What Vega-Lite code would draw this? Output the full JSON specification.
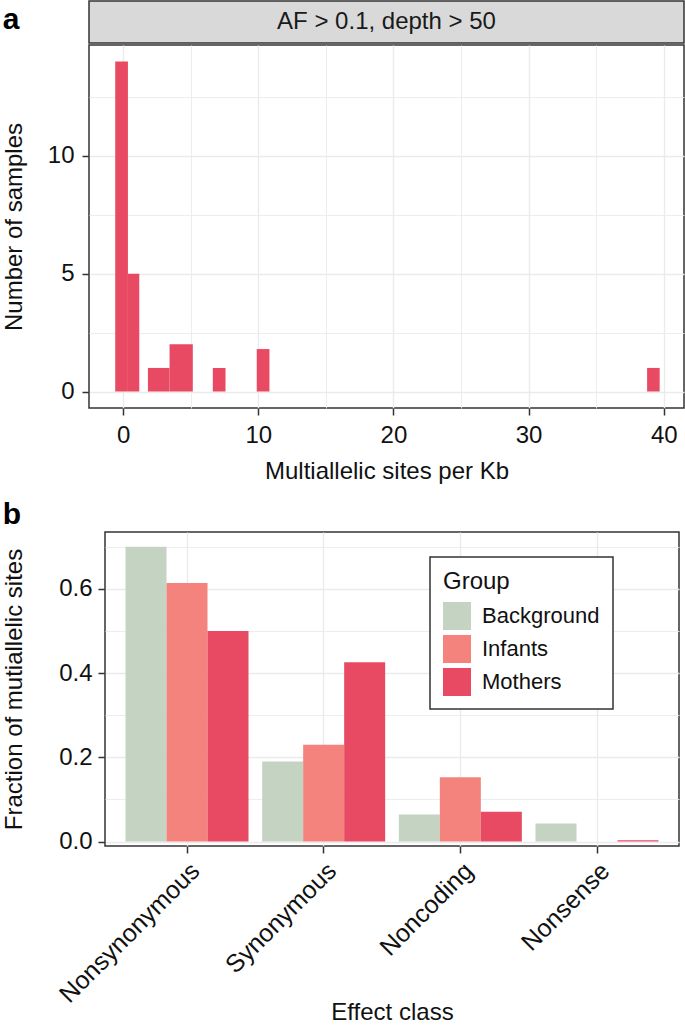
{
  "$schema": "https://vega.github.io/schema/vega-lite/v6.json",
  "padding": {"left": 0, "top": 0, "right": 0, "bottom": 0},
  "background": "white",
  "config": {
    "font": "Liberation Sans",
    "view": {"stroke": "#333333", "strokeWidth": 1.5},
    "axis": {
      "labelFont": "Liberation Sans", "labelFontSize": 24, "labelColor": "#111111",
      "titleFont": "Liberation Sans", "titleFontSize": 24, "titleFontWeight": "normal", "titleColor": "#111111",
      "tickColor": "#333333", "tickWidth": 1.5, "tickSize": 7, "domain": false,
      "gridColor": "#ebebeb", "labelOverlap": false, "labelFlush": false
    },
    "legend": {"strokeWidth": 1.5},
    "title": {"font": "Liberation Sans", "color": "#000000"}
  },
  "spacing": 15,
  "vconcat": [
    {
      "spacing": 0,
      "hconcat": [
        {"width": 1, "height": 1, "view": {"stroke": null, "fill": null}, "data": {"values": []}, "mark": {"type": "point", "opacity": 0}},
        {
          "spacing": 0,
          "vconcat": [
            {
              "width": 595, "height": 42,
              "view": {"fill": "#d9d9d9", "stroke": "#333333", "strokeWidth": 1.5},
              "title": {"text": "a", "orient": "left", "angle": 0, "anchor": "end", "baseline": "top", "dy": 4, "fontSize": 30, "fontWeight": "bold", "offset": 53},
              "data": {"values": [{"label": "AF > 0.1, depth > 50"}]},
              "mark": {"type": "text", "fontSize": 24, "color": "#1a1a1a", "font": "Liberation Sans"},
              "encoding": {"text": {"field": "label", "type": "nominal"}}
            },
            {
              "width": 595, "height": 363,
              "data": {"values": [
                {"start": -0.58, "end": 0.36, "count": 14},
                {"start": 0.36, "end": 1.2, "count": 5},
                {"start": 1.84, "end": 3.44, "count": 1},
                {"start": 3.44, "end": 5.16, "count": 2},
                {"start": 6.64, "end": 7.58, "count": 1},
                {"start": 9.89, "end": 10.83, "count": 1.8},
                {"start": 38.77, "end": 39.7, "count": 1}
              ]},
              "mark": {"type": "rect", "color": "#e84a64"},
              "encoding": {
                "x": {"field": "start", "type": "quantitative",
                  "scale": {"domain": [-2.52, 41.5], "nice": false, "zero": false},
                  "axis": {"title": "Multiallelic sites per Kb", "values": [0, 5, 10, 15, 20, 25, 30, 35, 40],
                    "labelExpr": "datum.value % 10 === 0 ? datum.label : ''",
                    "tickOpacity": {"condition": {"test": "datum.value % 10 === 0", "value": 1}, "value": 0},
                    "gridWidth": {"condition": {"test": "datum.value % 10 === 0", "value": 1.4}, "value": 0.9},
                    "grid": true, "labelPadding": 8, "titlePadding": 12}},
                "x2": {"field": "end"},
                "y": {"field": "count", "type": "quantitative",
                  "scale": {"domain": [-0.7, 14.7], "nice": false, "zero": false},
                  "axis": {"title": "Number of samples", "values": [0, 2.5, 5, 7.5, 10, 12.5],
                    "labelExpr": "datum.value % 5 === 0 ? datum.label : ''",
                    "tickOpacity": {"condition": {"test": "datum.value % 5 === 0", "value": 1}, "value": 0},
                    "gridWidth": {"condition": {"test": "datum.value % 5 === 0", "value": 1.4}, "value": 0.9},
                    "grid": true, "labelPadding": 8, "titlePadding": 21}},
                "y2": {"datum": 0}
              }
            }
          ]
        }
      ]
    },
    {
      "spacing": 0,
      "hconcat": [
        {"width": 1, "height": 1, "view": {"stroke": null, "fill": null}, "data": {"values": []}, "mark": {"type": "point", "opacity": 0}},
        {
          "width": 574, "height": 314,
          "title": {"text": "b", "anchor": "start", "frame": "bounds", "fontSize": 30, "fontWeight": "bold", "offset": 2},
          "data": {"values": [
            {"effect": "Nonsynonymous", "group": "Background", "fraction": 0.700},
            {"effect": "Nonsynonymous", "group": "Infants", "fraction": 0.614},
            {"effect": "Nonsynonymous", "group": "Mothers", "fraction": 0.500},
            {"effect": "Synonymous", "group": "Background", "fraction": 0.190},
            {"effect": "Synonymous", "group": "Infants", "fraction": 0.230},
            {"effect": "Synonymous", "group": "Mothers", "fraction": 0.426},
            {"effect": "Noncoding", "group": "Background", "fraction": 0.064},
            {"effect": "Noncoding", "group": "Infants", "fraction": 0.153},
            {"effect": "Noncoding", "group": "Mothers", "fraction": 0.071},
            {"effect": "Nonsense", "group": "Background", "fraction": 0.043},
            {"effect": "Nonsense", "group": "Infants", "fraction": 0.0},
            {"effect": "Nonsense", "group": "Mothers", "fraction": 0.003}
          ]},
          "mark": {"type": "bar"},
          "encoding": {
            "x": {"field": "effect", "type": "nominal",
              "sort": ["Nonsynonymous", "Synonymous", "Noncoding", "Nonsense"],
              "scale": {"paddingInner": 0.1, "paddingOuter": 0.15},
              "axis": {"title": "Effect class", "labelAngle": -45, "labelAlign": "right", "labelBaseline": "top",
                "labelFontSize": 25, "labelPadding": 5, "labelLimit": 400, "grid": true, "gridWidth": 1.4, "bandPosition": 0.5, "titlePadding": -7}},
            "xOffset": {"field": "group", "type": "nominal", "sort": ["Background", "Infants", "Mothers"]},
            "y": {"field": "fraction", "type": "quantitative",
              "scale": {"domain": [-0.0105, 0.735], "nice": false, "zero": false},
              "axis": {"title": "Fraction of mutiallelic sites", "values": [0, 0.1, 0.2, 0.3, 0.4, 0.5, 0.6, 0.7],
                "format": ".1f",
                "labelExpr": "round(datum.value * 10) % 2 === 0 ? datum.label : ''",
                "tickOpacity": {"condition": {"test": "round(datum.value * 10) % 2 === 0", "value": 1}, "value": 0},
                "gridWidth": {"condition": {"test": "round(datum.value * 10) % 2 === 0", "value": 1.4}, "value": 0.9},
                "grid": true, "labelPadding": 6, "titlePadding": 32}},
            "color": {"field": "group", "type": "nominal",
              "scale": {"domain": ["Background", "Infants", "Mothers"], "range": ["#c5d4c2", "#f3837c", "#e84a64"]},
              "legend": {"orient": "none", "legendX": 430, "legendY": 556, "title": "Group",
                "titleFontSize": 24, "titleFontWeight": "normal", "titleColor": "#111111", "titlePadding": 8,
                "labelFontSize": 22, "labelColor": "#111111", "labelOffset": 11,
                "symbolType": "square", "symbolSize": 784, "symbolStrokeWidth": 0, "symbolOpacity": 1,
                "rowPadding": 5, "padding": 13, "strokeColor": "#333333", "fillColor": "white"}}
          }
        }
      ]
    }
  ]
}
